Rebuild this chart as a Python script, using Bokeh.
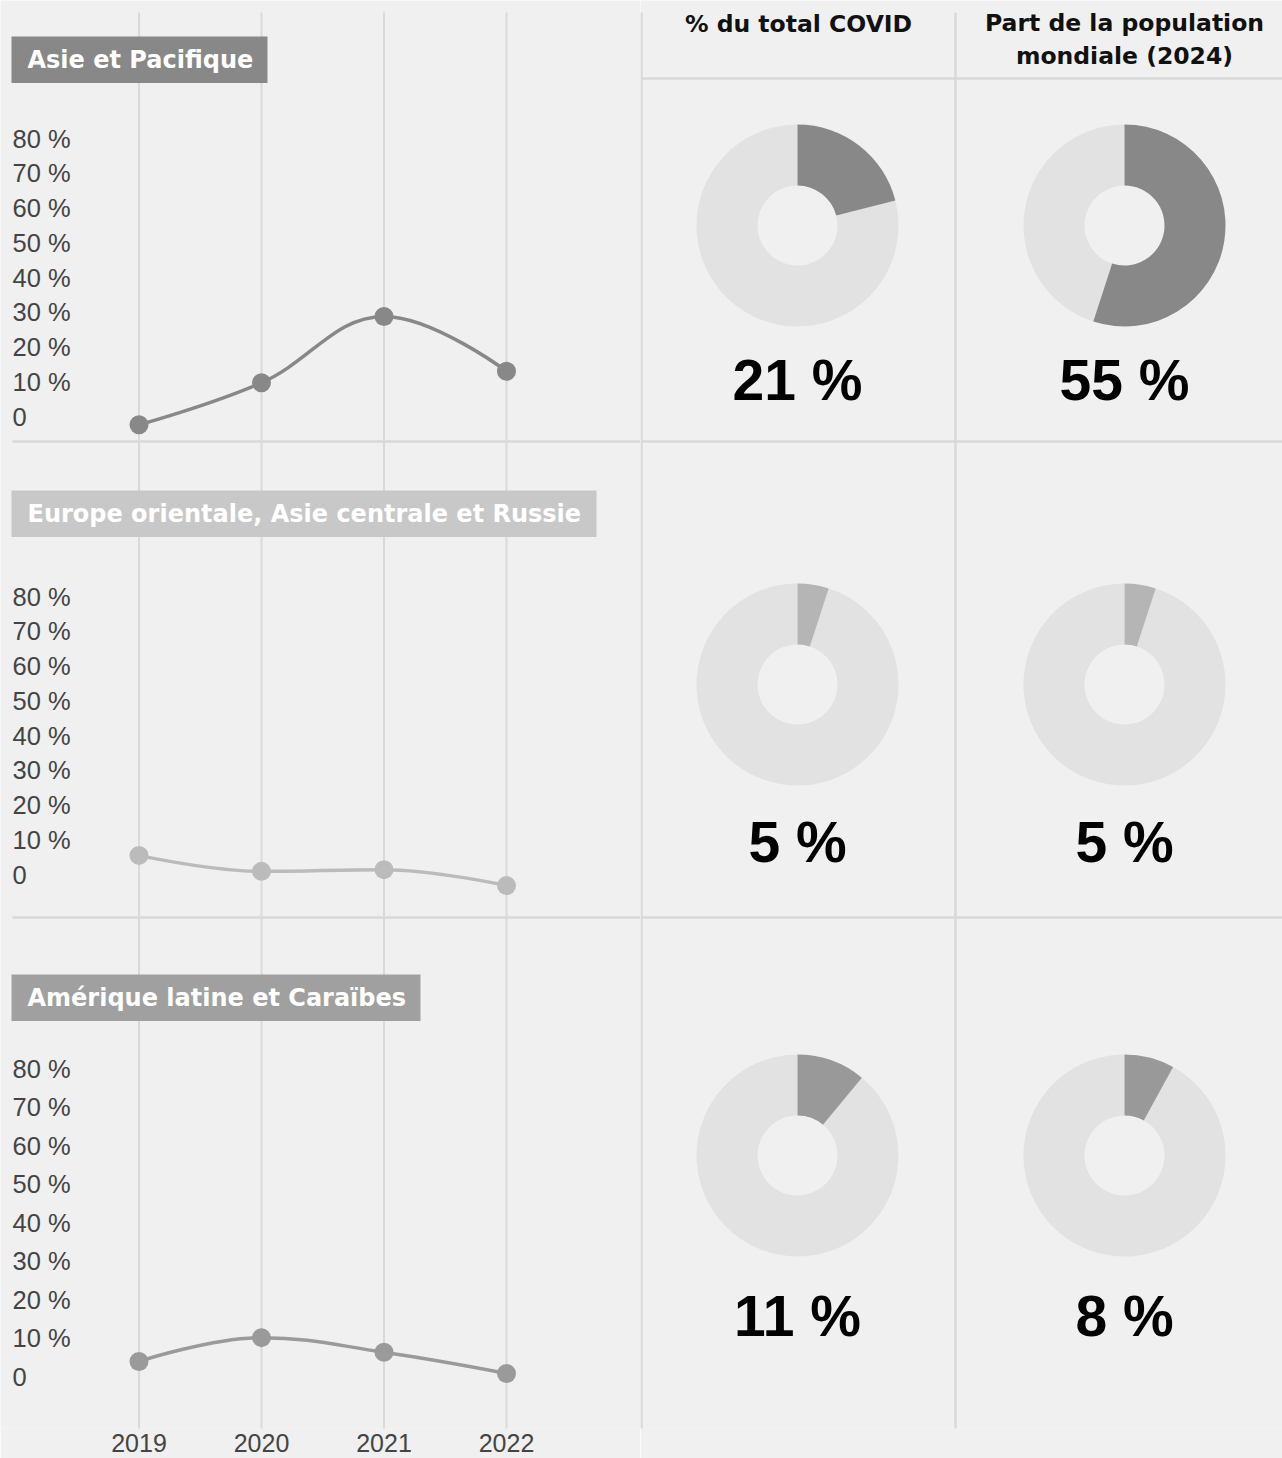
import math
from bokeh.plotting import figure
from bokeh.models import Range1d, LinearAxis, FixedTicker
from bokeh.layouts import row
from bokeh.embed import file_html
from bokeh.resources import INLINE
from bokeh.core.properties import value

# ---------------- data ----------------
years = [2019, 2020, 2021, 2022]
year_labels = ["2019", "2020", "2021", "2022"]
regions = ["Asie et Pacifique",
           "Europe orientale, Asie centrale et Russie",
           "Amérique latine et Caraïbes"]
asie_pacifique = [-2.4, 9.7, 28.8, 13.0]
europe_orientale = [5.5, 0.9, 1.4, -3.2]
amerique_latine = [4.0, 10.2, 6.4, 0.9]
covid_share = [21, 5, 11]
population_share = [55, 5, 8]
column_headers = ["% du total COVID", "Part de la population\nmondiale (2024)"]
y_ticks = [0, 10, 20, 30, 40, 50, 60, 70, 80]
y_tick_labels = ["0", "10 %", "20 %", "30 %", "40 %", "50 %", "60 %", "70 %", "80 %"]

series = [asie_pacifique, europe_orientale, amerique_latine]

# ---------------- styles / layout (page pixel coordinates) ----------------
BG = "#f0f0f0"
GRID = "#d9d9d9"
line_colors = ["#888888", "#bbbbbb", "#9a9a9a"]
title_colors = ["#888888", "#c8c8c8", "#a0a0a0"]
donut_dark = ["#888888", "#b5b5b5", "#999999"]
donut_light = "#e2e2e2"

LEFT_X0, LEFT_X1, RIGHT_X1 = 0, 640, 1282
TOP, FRAME_BOTTOM, PAGE_BOTTOM = 0, 1428, 1458
YEAR_PX0, YEAR_STEP = 138.5, 122.5
panel_zero_px = [416.0, 874.0, 1376.4]
panel_px_per_unit = [3.475, 3.475, 3.85]
title_box_top = [36, 490, 974]
title_box_right = [267, 596, 420]
BOX_H = 46.5
donut_col_x = [797, 1124]
donut_row_y = [225, 684, 1155]
big_label_y = [379, 841, 1315]
REG_FONT = "Liberation Sans"
TITLE_FONT = "DejaVu Sans"

# ---------------- left figure: line charts ----------------
yr_start = years[0] + (LEFT_X0 - YEAR_PX0) / YEAR_STEP
yr_end = years[0] + (LEFT_X1 - YEAR_PX0) / YEAR_STEP

p = figure(frame_width=LEFT_X1 - LEFT_X0, frame_height=FRAME_BOTTOM - TOP,
           x_range=Range1d(LEFT_X0, LEFT_X1), y_range=Range1d(FRAME_BOTTOM, TOP),
           x_axis_type=None, y_axis_type=None, toolbar_location=None,
           output_backend="svg", min_border=0, min_border_bottom=PAGE_BOTTOM - FRAME_BOTTOM,
           background_fill_color=BG, border_fill_color=BG, outline_line_color=None)
p.xgrid.visible = False
p.ygrid.visible = False
p.extra_x_ranges = {"yr": Range1d(yr_start, yr_end)}
ranges = {}
for i, (z, ppu) in enumerate(zip(panel_zero_px, panel_px_per_unit)):
    ranges[f"p{i}"] = Range1d((z - FRAME_BOTTOM) / ppu, (z - TOP) / ppu)
p.extra_y_ranges = ranges

xaxis = LinearAxis(x_range_name="yr", ticker=FixedTicker(ticks=years),
                   major_label_overrides={y: l for y, l in zip(years, year_labels)})
xaxis.axis_line_color = None
xaxis.major_tick_line_color = None
xaxis.minor_tick_line_color = None
xaxis.major_tick_out = 0
xaxis.major_label_standoff = 5
xaxis.major_label_text_font = REG_FONT
xaxis.major_label_text_font_size = "25px"
xaxis.major_label_text_color = "#444444"
p.add_layout(xaxis, "below")

# vertical gridlines
p.segment(x0=years, y0=[12] * len(years), x1=years, y1=[1430] * len(years),
          x_range_name="yr", line_color=GRID, line_width=2)
# horizontal separators
p.segment(x0=[12, 12], y0=[441, 917], x1=[LEFT_X1, LEFT_X1], y1=[441, 917],
          line_color=GRID, line_width=2.5)


def spline_controls(xs, ys, smoothing=1.5):
    n = len(xs)
    lc = [(xs[i], ys[i]) for i in range(n)]
    rc = [(xs[i], ys[i]) for i in range(n)]
    den = smoothing + 1
    for i in range(1, n - 1):
        x, y = xs[i], ys[i]
        lx, ly = xs[i - 1], ys[i - 1]
        nx, ny = xs[i + 1], ys[i + 1]
        lcx = (smoothing * x + lx) / den
        lcy = (smoothing * y + ly) / den
        rcx = (smoothing * x + nx) / den
        rcy = (smoothing * y + ny) / den
        if rcx != lcx:
            corr = ((rcy - lcy) * (rcx - x)) / (rcx - lcx) + y - rcy
            lcy += corr
            rcy += corr
            if lcy > ly and lcy > y:
                lcy = max(ly, y); rcy = 2 * y - lcy
            elif lcy < ly and lcy < y:
                lcy = min(ly, y); rcy = 2 * y - lcy
            if rcy > ny and rcy > y:
                rcy = max(ny, y); lcy = 2 * y - rcy
            elif rcy < ny and rcy < y:
                rcy = min(ny, y); lcy = 2 * y - rcy
        lc[i] = (lcx, lcy)
        rc[i] = (rcx, rcy)
    seg = dict(x0=[], y0=[], x1=[], y1=[], cx0=[], cy0=[], cx1=[], cy1=[])
    for i in range(1, n):
        seg["x0"].append(xs[i - 1]); seg["y0"].append(ys[i - 1])
        seg["x1"].append(xs[i]); seg["y1"].append(ys[i])
        seg["cx0"].append(rc[i - 1][0]); seg["cy0"].append(rc[i - 1][1])
        seg["cx1"].append(lc[i][0]); seg["cy1"].append(lc[i][1])
    return seg


for i, (name, vals) in enumerate(zip(regions, series)):
    rn = f"p{i}"
    top = title_box_top[i]
    p.quad(left=[11], right=[title_box_right[i]], top=[top], bottom=[top + BOX_H],
           fill_color=title_colors[i], line_color=None)
    p.text(x=[27], y=[top + BOX_H / 2], text=[name], text_color="white",
           text_font=value(TITLE_FONT), text_font_style="bold", text_font_size="24px",
           text_align="left", text_baseline="middle")
    p.text(x=[12] * len(y_ticks), y=y_ticks, text=y_tick_labels, y_range_name=rn,
           text_color="#444444", text_font=value(REG_FONT), text_font_size="25.5px",
           text_align="left", text_baseline="middle")
    seg = spline_controls(years, vals)
    p.bezier(x_range_name="yr", y_range_name=rn, line_color=line_colors[i],
             line_width=3.5, **seg)
    p.scatter(x=years, y=vals, x_range_name="yr", y_range_name=rn, size=19,
              fill_color=line_colors[i], line_color=None)

# ---------------- right figure: donuts ----------------
q = figure(frame_width=RIGHT_X1 - LEFT_X1, frame_height=FRAME_BOTTOM - TOP,
           x_range=Range1d(LEFT_X1, RIGHT_X1), y_range=Range1d(-FRAME_BOTTOM, -TOP),
           x_axis_type=None, y_axis_type=None, toolbar_location=None,
           output_backend="svg", min_border=0, min_border_bottom=PAGE_BOTTOM - FRAME_BOTTOM,
           background_fill_color=BG, border_fill_color=BG, outline_line_color=None)
q.xgrid.visible = False
q.ygrid.visible = False

q.segment(x0=[641, 955], y0=[-12, -12], x1=[641, 955], y1=[-1430, -1430],
          line_color=GRID, line_width=2.5)
q.segment(x0=[LEFT_X1, LEFT_X1, LEFT_X1], y0=[-78, -441, -917],
          x1=[RIGHT_X1] * 3, y1=[-78, -441, -917], line_color=GRID, line_width=2.5)

q.text(x=[donut_col_x[0] + 1], y=[-23], text=[column_headers[0]], text_color="#111111",
       text_font=value(TITLE_FONT), text_font_style="bold", text_font_size="23.5px",
       text_align="center", text_baseline="middle")
q.text(x=[donut_col_x[1]], y=[-39], text=[column_headers[1]], text_color="#111111",
       text_font=value(TITLE_FONT), text_font_style="bold", text_font_size="23.5px",
       text_align="center", text_baseline="middle", text_line_height=1.2)

for c, shares in enumerate([covid_share, population_share]):
    for r, v in enumerate(shares):
        f = v / 100.0
        cx, cy = donut_col_x[c], -donut_row_y[r]
        q.annular_wedge(x=[cx], y=[cy], inner_radius=40, outer_radius=101,
                        inner_radius_units="screen", outer_radius_units="screen",
                        start_angle=math.pi / 2, end_angle=math.pi / 2 - 2 * math.pi * f,
                        direction="anticlock", fill_color=donut_light, line_color=None)
        q.annular_wedge(x=[cx], y=[cy], inner_radius=40, outer_radius=101,
                        inner_radius_units="screen", outer_radius_units="screen",
                        start_angle=math.pi / 2 - 2 * math.pi * f, end_angle=math.pi / 2,
                        direction="anticlock", fill_color=donut_dark[r], line_color=None)
        q.text(x=[cx], y=[-big_label_y[r]], text=[f"{v} %"], text_color="#000000",
               text_font=value(REG_FONT), text_font_style="bold", text_font_size="57px",
               text_align="center", text_baseline="middle")

layout = row(p, q)
open("out.html", "w").write(file_html(layout, INLINE, title="COVID"))
